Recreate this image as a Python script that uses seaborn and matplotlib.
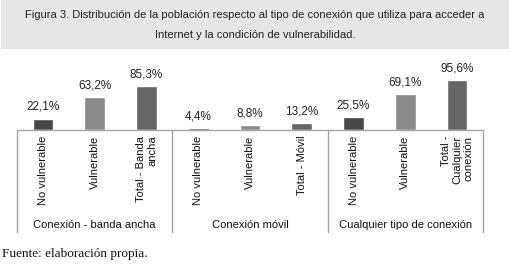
import matplotlib
matplotlib.use("Agg")
import matplotlib.pyplot as plt
import matplotlib.transforms as mtransforms
from matplotlib.patches import Rectangle
import pandas as pd
import seaborn as sns

# data
groups = ["Conexión - banda ancha", "Conexión móvil", "Cualquier tipo de conexión"]
conditions = ["No vulnerable", "Vulnerable", "Total"]
tick_labels = ["No vulnerable", "Vulnerable", "Total - Banda\nancha",
               "No vulnerable", "Vulnerable", "Total - Móvil",
               "No vulnerable", "Vulnerable", "Total -\nCualquier\nconexión"]
values = [22.1, 63.2, 85.3, 4.4, 8.8, 13.2, 25.5, 69.1, 95.6]
value_labels = ["22,1%", "63,2%", "85,3%", "4,4%", "8,8%", "13,2%", "25,5%", "69,1%", "95,6%"]

colors = {"No vulnerable": "#474747", "Vulnerable": "#898989", "Total": "#666666"}

df = pd.DataFrame({
    "key": [str(i) for i in range(len(values))],
    "cond": conditions * len(groups),
    "value": values,
})

sns.set_style("white")
plt.rcParams["font.family"] = ["Liberation Sans", "DejaVu Sans"]

fig = plt.figure(figsize=(5.10, 2.69), dpi=100)
W, H = 510, 269

# title box
fig.patches.append(Rectangle((0.002, (H - 49) / H), 0.998, 49 / H, transform=fig.transFigure,
                             facecolor="#e6e6e7", edgecolor="none", zorder=0))
fig.text(0.5, (H - 15) / H, "Figura 3. Distribución de la población respecto al tipo de conexión que utiliza para acceder a",
         ha="center", va="center", fontsize=8.0, color="#222222")
fig.text(0.5, (H - 35) / H, "Internet y la condición de vulnerabilidad.",
         ha="center", va="center", fontsize=8.0, color="#222222")

# axes: baseline at y=130 px, x from 17 to 483 px
ax = fig.add_axes([17 / W, (H - 130) / H, 466 / W, 52 / H])
sns.barplot(data=df, x="key", y="value", hue="cond", palette=colors, dodge=False,
            width=0.4, legend=False, ax=ax, saturation=1)
ax.set_ylim(0, 100)
ax.set_xlim(-0.5, 8.5)
ax.set_xlabel("")
ax.set_ylabel("")
ax.set_yticks([])
ax.set_xticks(range(len(tick_labels)))
ax.set_xticklabels(tick_labels, rotation=90, fontsize=8, color="#111111",
                   ha="center", va="top", multialignment="right")
ax.tick_params(axis="x", length=0, pad=4)
for s in ["top", "right", "left"]:
    ax.spines[s].set_visible(False)
ax.spines["bottom"].set_color("#a6a6a6")
ax.spines["bottom"].set_linewidth(1)
ax.patch.set_alpha(0)

# value labels
for i, (v, lab) in enumerate(zip(values, value_labels)):
    ax.annotate(lab, (i, v), xytext=(0, 4), textcoords="offset points",
                ha="center", va="bottom", fontsize=8.5, color="#222222")

# group separators and labels
trans = mtransforms.blended_transform_factory(ax.transData, fig.transFigure)
for xs in [-0.5, 2.5, 5.5, 8.5]:
    ax.plot([xs, xs], [(H - 130) / H, (H - 232) / H], transform=trans,
            color="#a6a6a6", linewidth=1, clip_on=False)
for g, name in enumerate(groups):
    ax.text(g * 3 + 1, (H - 225) / H, name, transform=trans, ha="center", va="center",
            fontsize=8, color="#111111")

fig.text(2 / W, (H - 254) / H, "Fuente: elaboración propia.", ha="left", va="center",
         fontsize=9.5, color="#111111", family=["Liberation Serif", "DejaVu Serif"])

fig.savefig("out.png", dpi=100)
